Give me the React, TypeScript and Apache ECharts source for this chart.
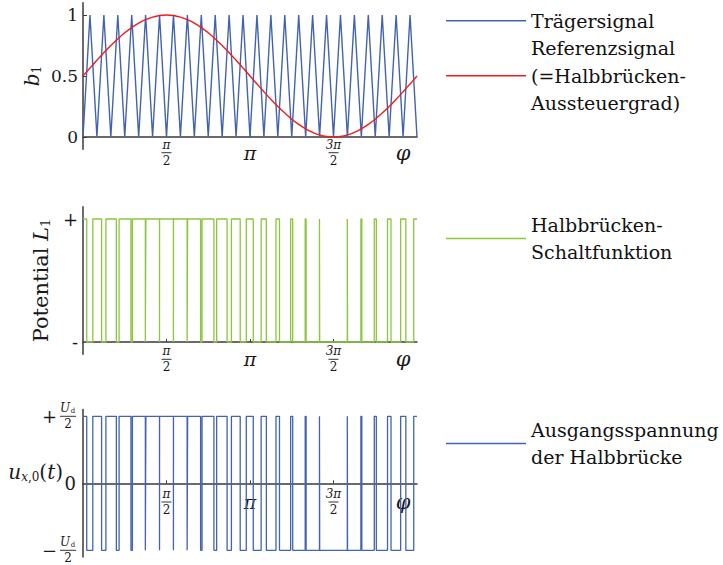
import React, { useEffect, useRef } from "react";
import * as echarts from "echarts";

const PI = Math.PI;

// carrier (triangle) vertex values, one per half carrier period, phi from 0 to 2*pi
const carrier = [
  0, 1, 0, 1, 0, 1, 0, 1, 0, 1, 0, 1, 0, 1, 0, 1, 0, 1, 0, 1, 0, 1, 0, 1, 0,
  1, 0, 1, 0, 1, 0, 1, 0, 1, 0, 1, 0, 1, 0, 1, 0, 1, 0, 1, 0, 1, 0, 1, 0,
];

// reference signal read at the same phi positions
const reference = [
  0.5, 0.565, 0.629, 0.691, 0.75, 0.804, 0.854, 0.897, 0.933, 0.962, 0.983, 0.996, 1,
  0.996, 0.983, 0.962, 0.933, 0.897, 0.854, 0.804, 0.75, 0.691, 0.629, 0.565, 0.5,
  0.435, 0.371, 0.309, 0.25, 0.196, 0.146, 0.103, 0.067, 0.038, 0.017, 0.004, 0,
  0.004, 0.017, 0.038, 0.067, 0.103, 0.146, 0.196, 0.25, 0.309, 0.371, 0.435, 0.5,
];

const xTicks = [PI / 2, PI, (3 * PI) / 2, 2 * PI];
const xTickLabels = ["frac:π", "π", "frac:3π", "φ"];

const topYTicks = [0, 0.5, 1];
const topYLabels = ["0", "0.5", "1"];
const midYTicks = [0, 1];
const midYLabels = ["-", "+"];
const botYTicks = [-1, 0, 1];
const botYLabels = ["minus", "0", "plus"];

const seriesNames = {
  carrier: "Trägersignal",
  reference: "Referenzsignal\n(=Halbbrücken-\nAussteuergrad)",
  switching: "Halbbrücken-\nSchaltfunktion",
  output: "Ausgangsspannung\nder Halbbrücke",
};

const FONT = "DejaVu Serif";
const TXT = "#1a1a1a";
const BLUE = "#4363ae";
const RED = "#f01c1c";
const GREEN = "#8cc63f";
const AXIS = "#3a3a3a";

function buildSwitching(): [number, number][] {
  const step = (2 * PI) / (carrier.length - 1);
  let state = reference[0] - carrier[0] > 0 ? 1 : 0;
  const pts: [number, number][] = [[0, state]];
  for (let k = 0; k < carrier.length - 1; k++) {
    const d0 = reference[k] - carrier[k];
    const d1 = reference[k + 1] - carrier[k + 1];
    if (d0 > 0 !== d1 > 0) {
      const s = d0 / (d0 - d1);
      const t = (k + s) * step;
      const ns = d1 > 0 ? 1 : 0;
      pts.push([t, state]);
      pts.push([t, ns]);
      state = ns;
    }
  }
  pts.push([2 * PI, state]);
  return pts;
}

const xRich = {
  n: { fontSize: 12, lineHeight: 13, fontStyle: "italic", align: "center", fontFamily: FONT, color: TXT },
  b: { width: 10, height: 1, fontSize: 1, lineHeight: 3, backgroundColor: "#333" },
  d: { fontSize: 12, lineHeight: 13, align: "center", fontFamily: FONT, color: TXT },
  p: { fontSize: 19, fontStyle: "italic", fontFamily: FONT, color: TXT },
  phi: { fontSize: 21, fontStyle: "italic", fontFamily: FONT, color: TXT, padding: [0, 28, 0, 0] },
};

function fmtX(v: number) {
  let idx = 0;
  let best = Infinity;
  xTicks.forEach((t, i) => {
    if (Math.abs(t - v) < best) {
      best = Math.abs(t - v);
      idx = i;
    }
  });
  const l = xTickLabels[idx];
  if (l.startsWith("frac:")) return `{n|${l.slice(5)}}\n{b| }\n{d|2}`;
  if (l === "φ") return `{phi|φ}`;
  return `{p|${l}}`;
}

function labelFor(ticks: number[], labels: string[], v: number) {
  let idx = 0;
  let best = Infinity;
  ticks.forEach((t, i) => {
    if (Math.abs(t - v) < best) {
      best = Math.abs(t - v);
      idx = i;
    }
  });
  return labels[idx];
}

const botRich = {
  s: { width: 18, fontSize: 12, lineHeight: 12 },
  n: { width: 10, fontSize: 12, lineHeight: 12, fontStyle: "italic", align: "right", fontFamily: FONT, color: TXT },
  sub: { width: 6, fontSize: 7, lineHeight: 7, verticalAlign: "bottom", align: "left", fontFamily: FONT, color: TXT },
  pm: { width: 18, fontSize: 18, lineHeight: 4, align: "left", fontFamily: FONT, color: TXT },
  b: { width: 16, height: 1, fontSize: 1, lineHeight: 4, backgroundColor: "#333" },
  d: { width: 16, fontSize: 12, lineHeight: 12, align: "center", fontFamily: FONT, color: TXT },
  z: { fontSize: 18, fontFamily: FONT, color: TXT },
};

function makeX(gridIndex: number, margin: number) {
  return {
    type: "value",
    gridIndex,
    min: 0,
    max: 2 * PI,
    axisLine: { show: true, onZero: true, lineStyle: { color: AXIS, width: 1.5 } },
    axisTick: {
      show: true,
      inside: true,
      length: 3,
      customValues: xTicks.slice(0, 3),
      lineStyle: { color: AXIS, width: 1 },
    },
    splitLine: { show: false },
    axisLabel: {
      customValues: xTicks,
      formatter: fmtX,
      margin,
      verticalAlign: "middle",
      fontFamily: FONT,
      color: TXT,
      rich: xRich,
    },
  };
}

export default function App() {
  const ref = useRef<HTMLDivElement>(null);
  useEffect(() => {
    if (!ref.current) return;
    const chart = echarts.init(ref.current, null, { renderer: "svg" });
    const sw = buildSwitching();
    const out = sw.map(([t, s]) => [t, s > 0 ? 1 : -1]);
    const step = (2 * PI) / (carrier.length - 1);
    const carrierData = carrier.map((v, i) => [i * step, v]);
    const refData = reference.map((v, i) => [i * step, v]);

    const legendBase = {
      orient: "vertical",
      left: 446,
      padding: 0,
      itemGap: 0,
      icon: "rect",
      itemWidth: 80,
      itemHeight: 1.5,
      selectedMode: false,
      textStyle: { fontFamily: FONT, fontSize: 19, lineHeight: 27.5, color: "#111" },
    };

    chart.setOption({
      animation: false,
      backgroundColor: "#fff",
      grid: [
        { left: 83, top: 2.8, width: 334, height: 146.4, outerBoundsMode: "none", containLabel: false },
        { left: 83, top: 206.7, width: 334, height: 147.6, outerBoundsMode: "none", containLabel: false },
        { left: 83, top: 409.6, width: 334, height: 147.4, outerBoundsMode: "none", containLabel: false },
      ],
      legend: [
        { ...legendBase, top: 7, data: [seriesNames.carrier, seriesNames.reference] },
        { ...legendBase, top: 211, data: [seriesNames.switching] },
        { ...legendBase, top: 416, data: [seriesNames.output] },
      ],
      xAxis: [makeX(0, 3.5), makeX(1, 5), makeX(2, -55)],
      yAxis: [
        {
          type: "value",
          gridIndex: 0,
          min: -0.1,
          max: 1.1,
          axisLine: { show: true, onZero: false, lineStyle: { color: AXIS, width: 1.5 } },
          axisTick: { show: true, inside: true, length: 4, customValues: topYTicks, lineStyle: { color: AXIS } },
          splitLine: { show: false },
          axisLabel: {
            customValues: topYTicks,
            formatter: (v: number) => labelFor(topYTicks, topYLabels, v),
            fontFamily: FONT,
            fontSize: 17,
            color: TXT,
            margin: 5,
          },
          name: "{i|b}{sub|1}",
          nameLocation: "middle",
          nameGap: 40,
          nameRotate: 90,
          nameMoveOverlap: false,
          nameTextStyle: {
            rich: {
              i: { fontSize: 20, fontStyle: "italic", fontFamily: FONT, color: TXT, lineHeight: 22 },
              sub: { fontSize: 12, fontFamily: FONT, color: TXT, lineHeight: 12, verticalAlign: "bottom" },
            },
          },
        },
        {
          type: "value",
          gridIndex: 1,
          min: -0.1,
          max: 1.1,
          axisLine: { show: true, onZero: false, lineStyle: { color: AXIS, width: 1.5 } },
          axisTick: { show: false },
          splitLine: { show: false },
          axisLabel: {
            customValues: midYTicks,
            formatter: (v: number) => labelFor(midYTicks, midYLabels, v),
            fontFamily: FONT,
            fontSize: 18,
            color: TXT,
            margin: 5,
          },
          name: "{r|Potential }{i|L}{sub|1}",
          nameLocation: "middle",
          nameGap: 31,
          nameRotate: 90,
          nameMoveOverlap: false,
          nameTextStyle: {
            rich: {
              r: { fontSize: 21, fontFamily: FONT, color: TXT, lineHeight: 23 },
              i: { fontSize: 21, fontStyle: "italic", fontFamily: FONT, color: TXT, lineHeight: 23 },
              sub: { fontSize: 13, fontFamily: FONT, color: TXT, lineHeight: 13, verticalAlign: "bottom" },
            },
          },
        },
        {
          type: "value",
          gridIndex: 2,
          min: -1.1,
          max: 1.1,
          axisLine: { show: true, onZero: false, lineStyle: { color: AXIS, width: 1.5 } },
          axisTick: { show: false },
          splitLine: { show: false },
          axisLabel: {
            customValues: botYTicks,
            formatter: (v: number) => {
              const l = labelFor(botYTicks, botYLabels, v);
              if (l === "plus") return "{s| }{n|U}{sub|d}\n{pm|+}{b| }\n{s| }{d|2}";
              if (l === "minus") return "{s| }{n|U}{sub|d}\n{pm|−}{b| }\n{s| }{d|2}";
              return "{z|0}";
            },
            fontFamily: FONT,
            color: TXT,
            margin: 7,
            rich: botRich,
          },
          name: "{i|u}{subi|x}{sub|,0}{r|(}{i|t}{r|)}",
          nameLocation: "middle",
          nameGap: 20,
          nameRotate: 0,
          nameMoveOverlap: false,
          nameTextStyle: {
            padding: [0, 0, 22, 0],
            rich: {
              r: { fontSize: 20, fontFamily: FONT, color: TXT, lineHeight: 22 },
              i: { fontSize: 20, fontStyle: "italic", fontFamily: FONT, color: TXT, lineHeight: 22 },
              subi: { fontSize: 12, fontStyle: "italic", fontFamily: FONT, color: TXT, lineHeight: 12, verticalAlign: "bottom" },
              sub: { fontSize: 12, fontFamily: FONT, color: TXT, lineHeight: 12, verticalAlign: "bottom" },
            },
          },
        },
      ],
      series: [
        {
          name: seriesNames.carrier,
          type: "line",
          xAxisIndex: 0,
          yAxisIndex: 0,
          data: carrierData,
          symbol: "none",
          lineStyle: { color: BLUE, width: 1.4 },
          itemStyle: { color: BLUE },
        },
        {
          name: seriesNames.reference,
          type: "line",
          xAxisIndex: 0,
          yAxisIndex: 0,
          data: refData,
          smooth: 0.4,
          symbol: "none",
          lineStyle: { color: RED, width: 1.4 },
          itemStyle: { color: RED },
        },
        {
          name: seriesNames.switching,
          type: "line",
          xAxisIndex: 1,
          yAxisIndex: 1,
          data: sw,
          symbol: "none",
          lineStyle: { color: GREEN, width: 1.3 },
          itemStyle: { color: GREEN },
        },
        {
          name: seriesNames.output,
          type: "line",
          xAxisIndex: 2,
          yAxisIndex: 2,
          data: out,
          symbol: "none",
          lineStyle: { color: BLUE, width: 1.3 },
          itemStyle: { color: BLUE },
        },
      ],
    });
    return () => chart.dispose();
  }, []);
  return (
    <div
      ref={ref}
      style={{ position: "absolute", left: 0, top: 0, width: 723, height: 565, background: "#fff" }}
    />
  );
}
